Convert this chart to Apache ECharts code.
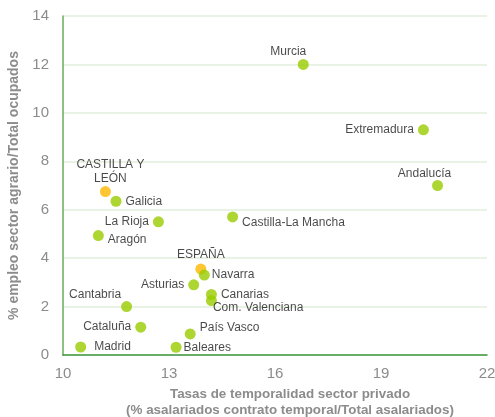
<!DOCTYPE html>
<html><head><meta charset="utf-8">
<script src="https://cdn.jsdelivr.net/npm/echarts@6/dist/echarts.min.js"></script>
<style>html,body{margin:0;padding:0;background:#fff}#c{width:495px;height:417px}</style>
</head><body><div id="c"></div>
<script>
const regions = ["Murcia","Extremadura","Andalucía","CASTILLA Y\nLEÓN","Galicia","La Rioja","Aragón","Castilla-La Mancha","ESPAÑA","Navarra","Asturias","Canarias","Com. Valenciana","Cantabria","Cataluña","País Vasco","Madrid","Baleares"];
const temporalidad = [16.8,20.2,20.6,11.2,11.5,12.7,11.0,14.8,13.9,14.0,13.7,14.2,14.2,11.8,12.2,13.6,10.5,13.2];
const empleoAgrario = [12.0,9.3,7.0,6.75,6.35,5.5,4.93,5.7,3.55,3.3,2.9,2.5,2.25,2.0,1.15,0.87,0.33,0.32];
const highlighted = ["CASTILLA Y\nLEÓN","ESPAÑA"];
const xTicks = [10,13,16,19,22];
const yTicks = [0,2,4,6,8,10,12,14];

const labelPos = {
  "Murcia":{position:"top",offset:[-15,4]},
  "Extremadura":{position:"left"},
  "Andalucía":{position:"top",offset:[-13,5]},
  "CASTILLA Y\nLEÓN":{position:"top",offset:[5,4]},
  "Galicia":{position:"right"},
  "La Rioja":{position:"left"},
  "Aragón":{position:"right",offset:[0,4]},
  "Castilla-La Mancha":{position:"right",offset:[0,6]},
  "ESPAÑA":{position:"top",offset:[0,2]},
  "Navarra":{position:"right",offset:[-2,0]},
  "Asturias":{position:"left"},
  "Canarias":{position:"right"},
  "Com. Valenciana":{position:"right",offset:[-8,7]},
  "Cantabria":{position:"left",offset:[4,-12]},
  "Cataluña":{position:"left"},
  "País Vasco":{position:"right",offset:[0,-6]},
  "Madrid":{position:"right",offset:[4,0]},
  "Baleares":{position:"right",offset:[-2,0]}
};

const data = regions.map((r,i)=>{
  const lp = labelPos[r] || {position:"right"};
  return {
    name:r,
    value:[temporalidad[i],empleoAgrario[i]],
    itemStyle:{color: highlighted.includes(r) ? "#FFB800" : "#99CC00"},
    label:{show:true, formatter:r, position:lp.position, offset:lp.offset||[0,0]}
  };
});

const chart = echarts.init(document.getElementById('c'),null,{renderer:'canvas'});
chart.setOption({
  animation:false,
  grid:{left:63,right:8,top:16,bottom:62,containLabel:false,outerBoundsMode:'none'},
  xAxis:{
    type:'value',min:xTicks[0],max:xTicks[xTicks.length-1],interval:3,
    name:'Tasas de temporalidad sector privado\n(% asalariados contrato temporal/Total asalariados)',
    nameLocation:'middle',nameGap:30,
    nameTextStyle:{color:'#8c8c8c',fontWeight:'bold',fontSize:13.4,fontFamily:'Liberation Sans, Arial',lineHeight:16,verticalAlign:'top',padding:[0,0,0,30]},
    axisLine:{show:true,lineStyle:{color:'#3c963c',width:1.5}},
    axisTick:{show:false},
    axisLabel:{color:'#8c8c8c',fontSize:15,fontFamily:'Liberation Sans, Arial',margin:11},
    splitLine:{show:false}
  },
  yAxis:{
    type:'value',min:yTicks[0],max:yTicks[yTicks.length-1],interval:2,
    name:'% empleo sector agrario/Total ocupados',
    nameLocation:'middle',nameGap:36,
    nameTextStyle:{color:'#8c8c8c',fontWeight:'bold',fontSize:14,fontFamily:'Liberation Sans, Arial'},
    axisLine:{show:true,lineStyle:{color:'#6aaa5a',width:1.5}},
    axisTick:{show:false},
    axisLabel:{color:'#8c8c8c',fontSize:15,fontFamily:'Liberation Sans, Arial',margin:14},
    splitLine:{show:true,lineStyle:{color:'#e2efdc',width:1.5}}
  },
  series:[{
    type:'scatter',
    symbolSize:11,
    data:data,
    label:{color:'#1a1a1a',fontSize:12,fontFamily:'Liberation Sans, Arial',lineHeight:14,distance:4},
    z:5
  }]
});
</script></body></html>
